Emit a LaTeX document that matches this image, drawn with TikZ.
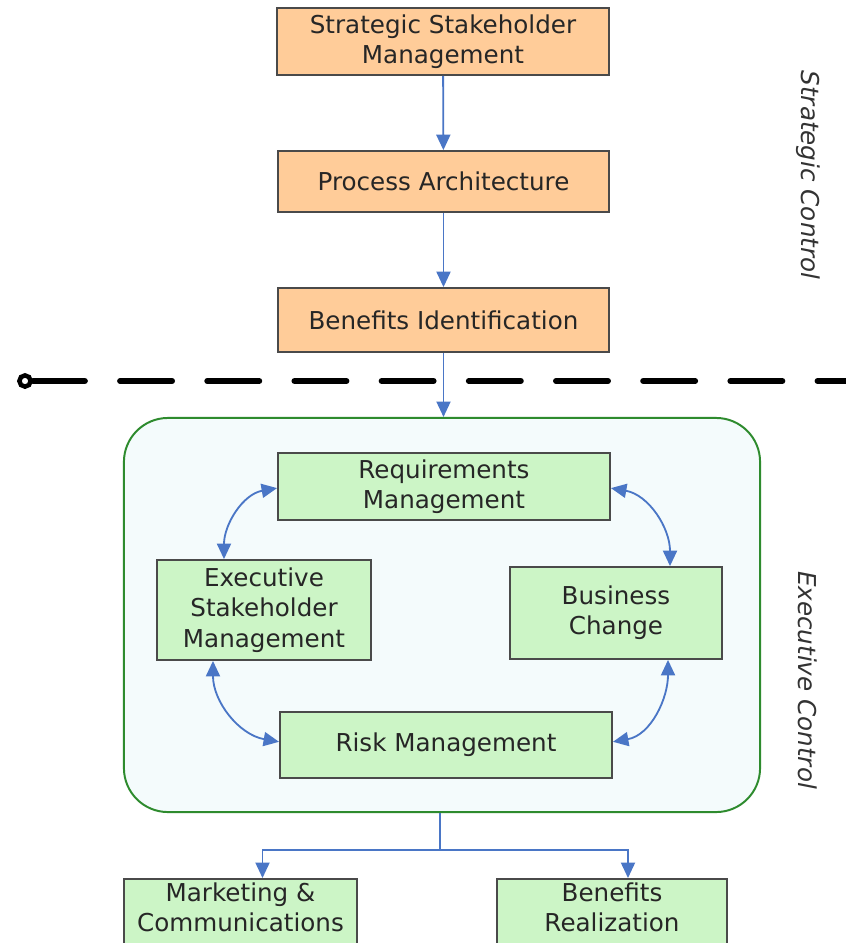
\documentclass[tikz,border=0pt]{standalone}
\usepackage{fontspec}
\setmainfont{DejaVu Sans}
\usetikzlibrary{arrows.meta}
\usetikzlibrary{positioning}

\definecolor{peach}{HTML}{FFCC99}
\definecolor{mint}{HTML}{CCF5C6}
\definecolor{frame}{HTML}{4A4A4A}
\definecolor{linkblue}{HTML}{4A76C6}
\definecolor{grpgreen}{HTML}{2E8B2E}
\definecolor{grpfill}{HTML}{F4FBFC}

\tikzset{
  stratbox/.style={draw=frame, fill=peach, line width=1.3pt, align=center, inner sep=2pt, text=black!85},
  execbox/.style={draw=frame, fill=mint, line width=1.3pt, align=center, inner sep=2pt, text=black!85},
  link/.style={draw=linkblue, line width=1.3pt, >={Triangle[length=11pt,width=10pt]}},
  sidelabel/.style={rotate=-90, font=\fontsize{17.5}{21}\selectfont\itshape, text=black!80}
}

\begin{document}
\begin{tikzpicture}[x=0.025cm, y=-0.025cm, font=\fontsize{17.5}{21.5}\selectfont]
\useasboundingbox (0,0) rectangle (846,943);
\clip (0,0) rectangle (846,943);
\fill[white] (0,0) rectangle (846,943);

% strategic level
\node[stratbox, minimum width=8.3cm, minimum height=1.675cm] (ssm) at (443,41.5) {Strategic Stakeholder\\Management};
\node[stratbox, minimum width=8.275cm, minimum height=1.525cm] (pa) at (443.5,181.5) {Process Architecture};
\node[stratbox, minimum width=8.275cm, minimum height=1.6cm] (bi) at (443.5,320) {Benefits Identification};
\draw[link,->] (ssm) -- (pa);
\draw[link,->] (pa) -- (bi);

% boundary
\node[circle, draw=black, fill=white, line width=3.2pt, minimum size=8pt, inner sep=0pt] (dot) at (25,381) {};
\draw[line width=4.2pt, line cap=round, dash pattern=on 37pt off 25pt] (dot.east) -- (850,381);

% executive level
\node[draw=grpgreen, fill=grpfill, line width=1.4pt, rounded corners=1.1cm, minimum width=15.9cm, minimum height=9.85cm] (grp) at (442,615) {};
\draw[link,->] (bi.south) -- (bi.south |- grp.north);

\node[execbox, minimum width=8.3cm, minimum height=1.675cm] (req) at (444,486.5) {Requirements\\Management};
\node[execbox, minimum width=5.35cm, minimum height=2.5cm] (esm) at (264,610) {Executive\\Stakeholder\\Management};
\node[execbox, minimum width=5.3cm, minimum height=2.3cm] (bc) at (616,613) {Business\\Change};
\node[execbox, minimum width=8.3cm, minimum height=1.65cm] (risk) at (446,745) {Risk Management};

\draw[link,<->] ([xshift=-1cm]esm.north) to[out=90,in=190] ([yshift=-0.04cm]req.west);
\draw[link,<->] ([yshift=-0.04cm]req.east) to[out=-10,in=90] ([xshift=1.35cm]bc.north);
\draw[link,<->] ([xshift=-1.275cm]esm.south) to[out=-90,in=170] ([yshift=0.08cm]risk.west);
\draw[link,<->] ([xshift=1.3cm]bc.south) to[out=-90,in=10] ([yshift=0.08cm]risk.east);

% outputs (cut off by the page edge)
\node[execbox, minimum width=5.825cm, minimum height=2cm, anchor=north] (mc) at (240.5,878) {};
\node[execbox, minimum width=5.75cm, minimum height=2cm, anchor=north] (br) at (612,878) {};
\node[align=center, text=black!85, below=0pt of mc.north] (mctext) {Marketing \&\\Communications};
\node[align=center, text=black!85, below=0pt of br.north] (brtext) {Benefits\\Realization};
\coordinate (split) at (440,850);
\draw[link] (grp.south -| split) -- (split);
\draw[link,->] (split) -| ([xshift=0.55cm]mc.north);
\draw[link,->] (split) -| ([xshift=0.4cm]br.north);

% side labels
\node[sidelabel] (sc) at (808,175) {Strategic Control};
\node[sidelabel] (ec) at (808,680) {Executive Control};
\end{tikzpicture}
\end{document}
